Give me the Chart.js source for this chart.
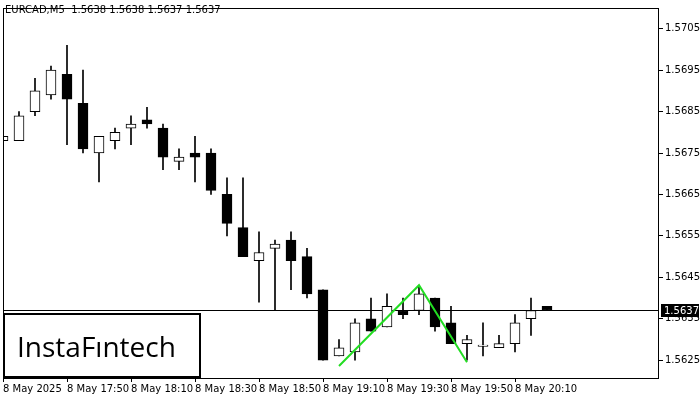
<!DOCTYPE html>
<html><head><meta charset="utf-8">
<script src="https://cdn.jsdelivr.net/npm/chart.js@4"></script>
<style>html,body{margin:0;padding:0;background:#fff}#w{width:700px;height:400px}</style>
</head><body><div id="w"><canvas id="c"></canvas></div>
<script>
const timeLabels=["8 May 2025","8 May 17:50","8 May 18:10","8 May 18:30","8 May 18:50","8 May 19:10","8 May 19:30","8 May 19:50","8 May 20:10"];
const opens =[1.5678,1.5678,1.5685,1.5689,1.5694,1.5687,1.5675,1.5678,1.5681,1.5683,1.5681,1.5673,1.5675,1.5675,1.5665,1.5657,1.5649,1.5652,1.5654,1.5650,1.5642,1.5626,1.5627,1.5635,1.5633,1.5637,1.5637,1.5640,1.5634,1.5629,1.56285,1.5628,1.5629,1.5635,1.5638];
const highs =[1.5681,1.5685,1.5693,1.5696,1.5701,1.5695,1.5679,1.5681,1.5684,1.5686,1.5682,1.5676,1.5679,1.5676,1.5669,1.5669,1.5656,1.5654,1.5656,1.5652,1.5642,1.5630,1.5635,1.5640,1.5641,1.5640,1.5643,1.5640,1.5638,1.5631,1.5634,1.5631,1.5636,1.5640,1.5638];
const lows  =[1.5676,1.5678,1.5684,1.5688,1.5677,1.5675,1.5668,1.5676,1.5677,1.5681,1.5671,1.5671,1.5668,1.5665,1.5655,1.5650,1.5639,1.5637,1.5642,1.5640,1.5625,1.5626,1.5625,1.5632,1.5633,1.5635,1.5636,1.5632,1.5629,1.5625,1.5626,1.5628,1.5627,1.5631,1.5637];
const closes=[1.5679,1.5684,1.5690,1.5695,1.5688,1.5676,1.5679,1.5680,1.5682,1.5682,1.5674,1.5674,1.5674,1.5666,1.5658,1.5650,1.5651,1.5653,1.5649,1.5641,1.5625,1.5628,1.5634,1.5632,1.5638,1.5636,1.5641,1.5633,1.5629,1.5630,1.56285,1.5629,1.5634,1.5637,1.5637];
const patternIdx=[21,26,29];
const patternVals=[1.56236,1.56431,1.56245];
const yTicks=[1.5625,1.5635,1.5645,1.5655,1.5665,1.5675,1.5685,1.5695,1.5705];
const lastPrice=1.5637;
const header="EURCAD,M5  1.5638 1.5638 1.5637 1.5637";

const MINB=0.00003;
const wicks=opens.map((o,i)=>({x:i,y:[lows[i],highs[i]]}));
const bodies=opens.map((o,i)=>{let a=Math.min(o,closes[i]),b=Math.max(o,closes[i]);if(b-a<MINB){const m=(a+b)/2;a=m-MINB/2;b=m+MINB/2;}return {x:i,y:[a,b]};});
const bodyFill=opens.map((o,i)=>closes[i]>=o?'#fff':'#000');
const font='"DejaVu Sans", sans-serif';

const deco={id:'deco',
 beforeDatasetsDraw(ch){const c=ch.ctx,a=ch.chartArea,ys=ch.scales.y;
  c.save();
  const py=Math.round(ys.getPixelForValue(lastPrice))+0.5;
  c.strokeStyle='#000';c.lineWidth=1;c.beginPath();c.moveTo(a.left,py);c.lineTo(a.right,py);c.stroke();
  c.restore();},
 afterDraw(ch){const c=ch.ctx,a=ch.chartArea,xs=ch.scales.x,ys=ch.scales.y;
  c.save();
  c.strokeStyle='#000';c.lineWidth=1;
  c.strokeRect(a.left+0.5,a.top+0.5,a.right-a.left-1,a.bottom-a.top);
  c.fillStyle='#000';c.font='10px '+font;c.textBaseline='alphabetic';c.textAlign='left';
  c.fillText(header,5,13);
  timeLabels.forEach((t,k)=>{const x=Math.round(xs.getPixelForValue(k*4));
    c.beginPath();c.moveTo(x+0.5,a.bottom);c.lineTo(x+0.5,a.bottom+4);c.stroke();
    c.fillText(t,x,a.bottom+14);});
  const py=Math.round(ys.getPixelForValue(lastPrice));
  c.fillRect(a.right+2,py-6,38,13);
  c.fillStyle='#fff';c.fillText(lastPrice.toFixed(4),a.right+5,py+4);
  c.fillStyle='#fff';c.fillRect(3,313,198,65);
  c.strokeStyle='#000';c.lineWidth=2;c.strokeRect(4,314,196,63);
  c.fillStyle='#000';c.font='500 28px "Open Sans", sans-serif';c.fillText('InstaFıntech',17,357);
  c.restore();}
};

new Chart(document.getElementById('c'),{
 type:'bar',
 data:{datasets:[
  {type:'line',data:patternIdx.map((x,i)=>({x,y:patternVals[i]})),borderColor:'#22dd22',borderWidth:2,pointRadius:0,order:0},
  {data:bodies,backgroundColor:bodyFill,borderColor:'#000',borderWidth:1,borderSkipped:false,barThickness:10,grouped:false,order:1},
  {data:wicks,backgroundColor:'#000',borderWidth:0,barThickness:1,grouped:false,order:2}
 ]},
 options:{responsive:true,maintainAspectRatio:false,animation:false,devicePixelRatio:1,
  layout:{padding:{left:3,top:3,right:0,bottom:0}},
  plugins:{legend:{display:false},tooltip:{enabled:false}},
  scales:{
   x:{type:'linear',offset:false,min:0,max:41,grid:{display:false},border:{display:false},ticks:{display:false},afterFit(s){s.height=22;}},
   y:{position:'right',min:1.56207,max:1.5710,
      afterBuildTicks(s){s.ticks=yTicks.map(v=>({value:v}));},
      grid:{drawOnChartArea:false,tickLength:4,color:'#000'},border:{display:false},
      ticks:{color:'#000',font:{family:font,size:10},padding:2,callback:v=>v.toFixed(4)},
      afterFit(s){s.width=41;}}
  }},
 plugins:[deco]
});
</script></body></html>
